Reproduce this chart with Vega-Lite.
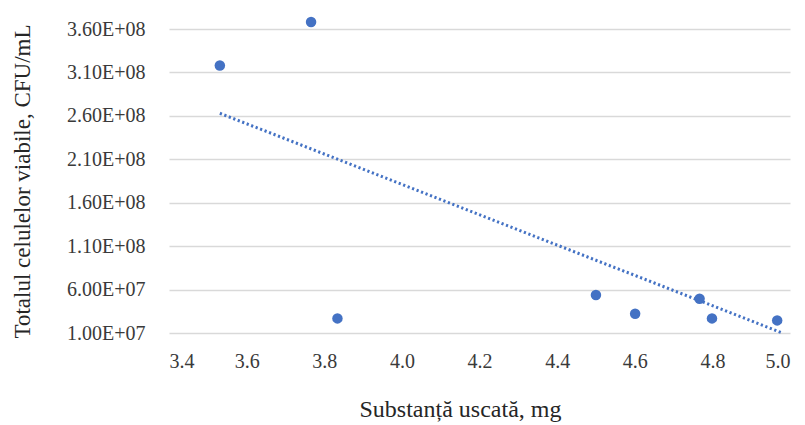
{
  "$schema": "https://vega.github.io/schema/vega-lite/v6.json",
  "width": 621,
  "height": 304,
  "autosize": {"type": "none"},
  "padding": {"left": 169, "top": 29, "right": 15, "bottom": 92},
  "background": "white",
  "config": {
    "view": {"stroke": null},
    "font": "Liberation Serif",
    "axis": {"labelFont": "Liberation Serif", "titleFont": "Liberation Serif", "titleFontWeight": "normal"}
  },
  "datasets": {
    "pts": [
      {"x": 3.531, "y": 318000000},
      {"x": 3.766, "y": 368000000},
      {"x": 3.834, "y": 26800000},
      {"x": 4.50, "y": 53700000},
      {"x": 4.601, "y": 32200000},
      {"x": 4.767, "y": 49500000},
      {"x": 4.799, "y": 26800000},
      {"x": 4.967, "y": 24500000}
    ],
    "trend": [
      {"x": 3.531, "y": 263000000},
      {"x": 4.98, "y": 10000000}
    ]
  },
  "layer": [
    {
      "data": {"name": "trend"},
      "mark": {"type": "line", "color": "#4472C4", "strokeWidth": 3, "strokeDash": [2.2, 2.6], "clip": false},
      "encoding": {
        "x": {"field": "x", "type": "quantitative", "scale": {"domain": [3.4, 5.0], "nice": false, "zero": false},
          "axis": {"values": [3.4, 3.6, 3.8, 4.0, 4.2, 4.4, 4.6, 4.8, 5.0], "format": ".1f", "grid": false, "domain": false, "ticks": false,
            "labelFontSize": 20, "labelColor": "#3a3a3a", "labelPadding": 18,
            "title": "Substanță uscată, mg", "titleFontSize": 24, "titleColor": "#262626", "titlePadding": 26, "titleX": 291, "titleAlign": "center"}},
        "y": {"field": "y", "type": "quantitative", "scale": {"domain": [10000000, 360000000], "nice": false, "zero": false},
          "axis": {"values": [10000000, 60000000, 110000000, 160000000, 210000000, 260000000, 310000000, 360000000],
            "labelExpr": "datum.value >= 1e8 ? format(datum.value/1e8,'.2f') + 'E+08' : format(datum.value/1e7,'.2f') + 'E+07'",
            "grid": true, "gridColor": "#d9d9d9", "gridWidth": 1.5, "domain": false, "ticks": false,
            "labelFontSize": 20, "labelColor": "#3a3a3a", "labelPadding": 24,
            "title": "Totalul celulelor viabile, CFU/mL", "titleFontSize": 23, "titleColor": "#262626", "titlePadding": 32}}
      }
    },
    {
      "data": {"name": "pts"},
      "mark": {"type": "circle", "color": "#4472C4", "opacity": 1, "size": 110, "clip": false},
      "encoding": {
        "x": {"field": "x", "type": "quantitative"},
        "y": {"field": "y", "type": "quantitative"}
      }
    }
  ]
}
